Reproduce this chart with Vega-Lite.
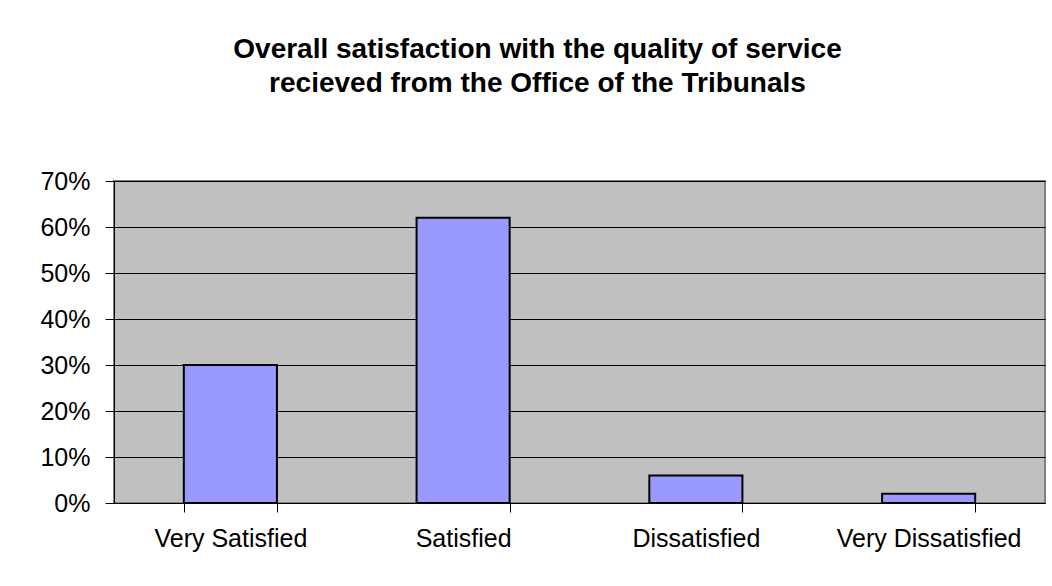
{
  "$schema": "https://vega.github.io/schema/vega-lite/v6.json",
  "autosize": {"type": "none"},
  "padding": {"left": 114, "top": 181, "right": 7, "bottom": 83},
  "width": 931,
  "height": 322,
  "background": "white",
  "title": {
    "text": ["Overall satisfaction with the quality of service", "recieved from the Office of the Tribunals"],
    "font": "Liberation Sans",
    "fontSize": 28,
    "fontWeight": "bold",
    "color": "black",
    "anchor": "middle",
    "frame": "group",
    "dx": -42,
    "lineHeight": 34,
    "offset": 71
  },
  "data": {
    "values": [
      {"category": "Very Satisfied", "share": 0.30},
      {"category": "Satisfied", "share": 0.62},
      {"category": "Dissatisfied", "share": 0.06},
      {"category": "Very Dissatisfied", "share": 0.02}
    ]
  },
  "mark": {"type": "bar", "fill": "#9999FF", "stroke": "black", "strokeWidth": 2},
  "encoding": {
    "x": {
      "field": "category",
      "type": "nominal",
      "sort": null,
      "scale": {"paddingInner": 0.6, "paddingOuter": 0.3},
      "axis": {
        "title": null,
        "labelAngle": 0,
        "labelFont": "Liberation Sans",
        "labelFontSize": 25,
        "labelColor": "black",
        "labelPadding": 14,
        "labelLimit": 400,
        "tickBand": "extent",
        "tickSize": 9,
        "tickColor": "black",
        "domainColor": "black",
        "labelBaseline": "top"
      }
    },
    "y": {
      "field": "share",
      "type": "quantitative",
      "scale": {"domain": [0, 0.7], "nice": false},
      "axis": {
        "title": null,
        "values": [0, 0.1, 0.2, 0.3, 0.4, 0.5, 0.6, 0.7],
        "format": ".0%",
        "labelFont": "Liberation Sans",
        "labelFontSize": 25,
        "labelColor": "black",
        "labelPadding": 15,
        "tickSize": 9,
        "tickColor": "black",
        "domainColor": "black",
        "grid": true,
        "gridColor": "black",
        "gridWidth": 1,
        "gridOpacity": 1
      }
    }
  },
  "config": {
    "view": {"fill": "#C0C0C0", "stroke": "#808080", "strokeWidth": 2},
    "axis": {"domainWidth": 1, "tickWidth": 1}
  }
}
